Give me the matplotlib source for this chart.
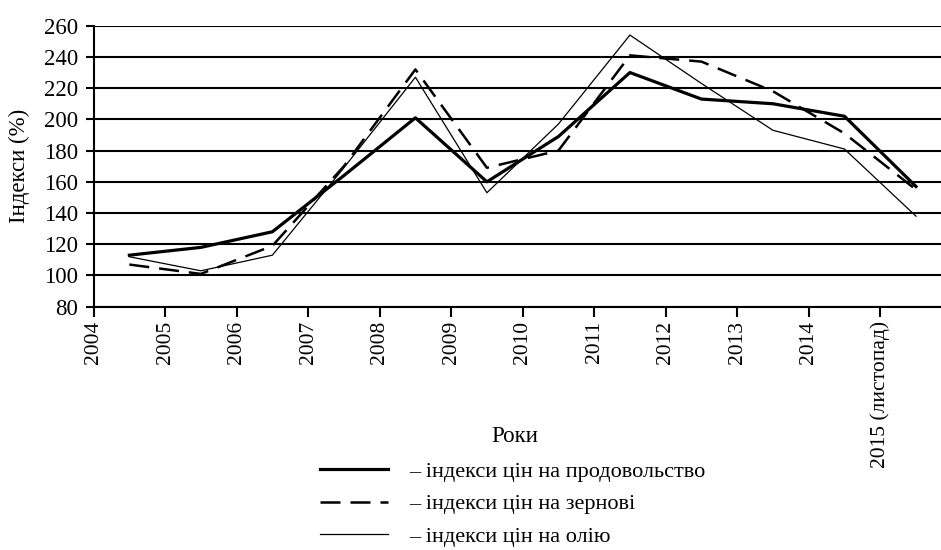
"""Індекси цін ФАО: продовольство, зернові, олія (2004–2015)."""
import matplotlib
matplotlib.use("Agg")
import matplotlib.pyplot as plt

plt.rcParams["font.family"] = ["Liberation Serif", "DejaVu Serif"]

# позиції точок — між підписами років
years = [2004.5, 2005.5, 2006.5, 2007.5, 2008.5, 2009.5,
         2010.5, 2011.5, 2012.5, 2013.5, 2014.5, 2015.5]
food  = [113, 118, 128, 164, 201, 160, 189, 230, 213, 210, 202, 157]
grain = [107, 101, 119, 170, 232, 169, 180, 241, 237, 218, 191, 155]
oil   = [112, 103, 113, 169, 227, 153, 197, 254, 223, 193, 181, 138]

tick_pos = list(range(2004, 2016))
tick_lbl = [str(y) for y in range(2004, 2015)] + ["2015 (листопад)"]
y_ticks = list(range(80, 261, 20))

fig = plt.figure(figsize=(9.41, 5.5), dpi=100)
ax = fig.add_axes([93.6 / 941, 1 - 306.7 / 550, 1 - 93.6 / 941, (306.7 - 25.7) / 550])

for y in y_ticks:
    ax.axhline(y, color="black", linewidth=1.5, zorder=1)

l1, = ax.plot(years, food, color="black", linewidth=2.3, zorder=3)
l2, = ax.plot(years, grain, color="black", linewidth=1.8, dashes=(8, 4), zorder=3)
l3, = ax.plot(years, oil, color="black", linewidth=0.9, zorder=3)

ax.set_xlim(2004, 2015.85)
ax.set_ylim(80, 260)
ax.set_xticks(tick_pos)
ax.set_xticklabels(tick_lbl, rotation=90, fontsize=15.5)
ax.set_yticks(y_ticks)
ax.tick_params(axis="y", labelsize=16.5, length=6, width=1.5, pad=5)
ax.tick_params(axis="x", length=7, width=1.5, pad=3)
for s in ("top", "right"):
    ax.spines[s].set_visible(False)
ax.spines["left"].set_linewidth(1.5)
ax.spines["bottom"].set_linewidth(1.5)
ax.set_ylabel("Індекси (%)", fontsize=16.5, labelpad=10)

fig.text(515 / 941, 1 - 437 / 550, "Роки", fontsize=16.5, ha="center", va="center")

fig.legend([l1, l2, l3],
           ["– індекси цін на продовольство", "– індекси цін на зернові", "– індекси цін на олію"],
           loc="upper left", bbox_to_anchor=(320 / 941, 1 - 461 / 550),
           frameon=False, fontsize=16, handlelength=3.05, handletextpad=0.98,
           labelspacing=0.55, borderpad=0, borderaxespad=0)

fig.savefig("out.png", dpi=100)
